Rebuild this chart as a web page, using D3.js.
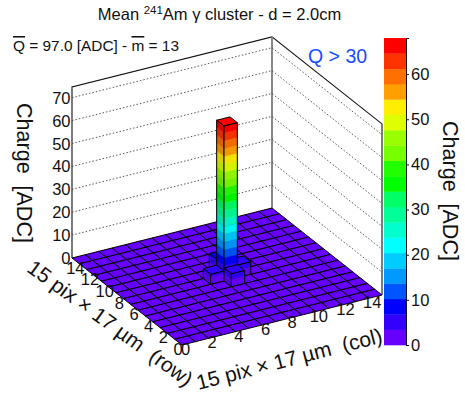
<!DOCTYPE html>
<html><head><meta charset="utf-8">
<script src="https://cdn.jsdelivr.net/npm/d3@7"></script>
<style>html,body{margin:0;padding:0;background:#fff}svg{display:block}text{font-family:"Liberation Sans",Arial,sans-serif;fill:#111}</style>
</head><body><svg id="c" width="465" height="394"></svg>
<script>
const paletteLowToHigh = ["#6600ff","#3300ff","#0000ff","#0055ff","#0099ff","#00ccff","#00ffff","#00ffcc","#00ff99","#00ff66","#00ff00","#22ff00","#77ff00","#99ff00","#ddff00","#ffee00","#ffa000","#ff7000","#ff3300","#ff0000"];
const zMaximum = 68;
const zWallTop = 74.7;
const binCount = 15;
const zTicks = [0,10,20,30,40,50,60,70];
const colTicks = [0,2,4,6,8,10,12,14];
const rowTicks = [0,2,4,6,8,10,12,14];
const paletteTicks = [0,10,20,30,40,50,60];
// charge per cell; outer index = row, inner index = col
const chargeByRow = [
 [0,0,0,0,0,0,0,0,0,0,0,0,0,0,0],
 [0,0,0,0,0,0,0,0,0,0,0,0,0,0,0],
 [0,0,0,0,0,0,0,0,0,0,0,0,0,0,0],
 [0,0,0,0,0,0,0,0,0,0,0,0,0,0,0],
 [0,0,0,0,0,0,0,0,0,0,0,0,0,0,0],
 [0,0,0,0,0,0,0,0,0,0,0,0,0,0,0],
 [0,0,0,0,0,0,0,5.7,0,0,0,0,0,0,0],
 [0,0,0,0,0,0,4.4,67.7,5.5,0,0,0,0,0,0],
 [0,0,0,0,0,0,0,7,0,0,0,0,0,0,0],
 [0,0,0,0,0,0,0,0,0,0,0,0,0,0,0],
 [0,0,0,0,0,0,0,0,0,0,0,0,0,0,0],
 [0,0,0,0,0,0,0,0,0,0,0,0,0,0,0],
 [0,0,0,0,0,0,0,0,0,0,0,0,0,0,0],
 [0,0,0,0,0,0,0,0,0,0,0,0,0,0,0],
 [0,0,0,0,0,0,0,0,0,0,0,0,0,0,0]
];

const svg = d3.select("#c");
const colDX = d3.scaleLinear([0,binCount],[0,200]);
const colDY = d3.scaleLinear([0,binCount],[0,-50]);
const rowDX = d3.scaleLinear([0,binCount],[0,-110]);
const rowDY = d3.scaleLinear([0,binCount],[0,-87]);
const zDY = d3.scaleLinear([0,70],[0,-160.3]);
const origin = [182,345];
const P = (c,r,z=0)=>[origin[0]+colDX(c)+rowDX(r), origin[1]+colDY(c)+rowDY(r)+zDY(z)];
const poly = d3.line();
const levelW = zMaximum/paletteLowToHigh.length;
const shade = (hex,k)=>{const c=d3.rgb(hex);return d3.rgb(c.r*k,c.g*k,c.b*k).formatHex();};

// walls
const walls = svg.append("g");
walls.append("path").attr("d",poly([P(0,binCount),P(0,binCount,zWallTop),P(binCount,binCount,zWallTop),P(binCount,0,zWallTop),P(binCount,0)])).attr("fill","none").attr("stroke","#111").attr("stroke-width",1.1);
walls.append("path").attr("d",poly([P(binCount,binCount),P(binCount,binCount,zWallTop)])).attr("stroke","#888").attr("stroke-width",2).attr("fill","none");
zTicks.filter(z=>z>0).forEach(z=>{
  walls.append("path").attr("d",poly([P(0,binCount,z),P(binCount,binCount,z),P(binCount,0,z)])).attr("fill","none").attr("stroke","#444").attr("stroke-width",0.9).attr("stroke-dasharray","1.5,2");
});

// lego
const lego = svg.append("g").attr("stroke-linejoin","round");
function side(a,b,h,k){
  const top = Math.min(h,zMaximum);
  if(top<=0) return;
  const n = Math.ceil(top/levelW);
  for(let l=0;l<n;l++){
    const z0=l*levelW, z1=Math.min((l+1)*levelW,top);
    lego.append("path").attr("d",poly([[a[0],a[1]+zDY(z0)],[b[0],b[1]+zDY(z0)],[b[0],b[1]+zDY(z1)],[a[0],a[1]+zDY(z1)]])+"Z")
      .attr("fill",shade(paletteLowToHigh[l],k)).attr("stroke",shade(paletteLowToHigh[l],k)).attr("stroke-width",0.3);
  }
  lego.append("path").attr("d",poly([a,[a[0],a[1]+zDY(top)],[b[0],b[1]+zDY(top)],b])+"Z").attr("fill","none").attr("stroke","#000").attr("stroke-width",1);
}
for(let r=binCount-1;r>=0;r--){
  for(let c=binCount-1;c>=0;c--){
    const h=chargeByRow[r][c];
    const lev=Math.min(Math.floor(h/levelW),paletteLowToHigh.length-1);
    lego.append("path").attr("d",poly([P(c,r,h),P(c+1,r,h),P(c+1,r+1,h),P(c,r+1,h)])+"Z")
      .attr("fill",paletteLowToHigh[lev]).attr("stroke","#000").attr("stroke-width",1);
    side(P(c,r),P(c,r+1),h,0.86);
    side(P(c,r),P(c+1,r),h,0.95);
  }
}

// axis numbers
svg.append("g").selectAll("text").data(zTicks).join("text")
  .attr("x",P(0,binCount)[0]-1.5).attr("y",d=>P(0,binCount,d)[1]+6).attr("text-anchor","end").attr("font-size",16.5).text(d=>d);
svg.append("g").selectAll("text").data(colTicks).join("text")
  .attr("x",d=>P(d,0)[0]+3.5).attr("y",d=>P(d,0)[1]+10).attr("text-anchor","middle").attr("font-size",16.5).text(d=>d);
svg.append("g").selectAll("text").data(rowTicks).join("text")
  .attr("x",d=>P(0,d)[0]-4).attr("y",d=>P(0,d)[1]+10).attr("text-anchor","middle").attr("font-size",16.5).text(d=>d);

// colour bar
const barX=384, barW=22;
const barY=d3.scaleLinear([0,zMaximum],[345,38]);
svg.append("g").selectAll("rect").data(paletteLowToHigh).join("rect")
  .attr("x",barX).attr("width",barW).attr("y",(d,i)=>barY((i+1)*levelW)).attr("height",(d,i)=>barY(i*levelW)-barY((i+1)*levelW)+0.3).attr("fill",d=>d);
const barAxis=svg.append("g").attr("transform",`translate(${barX+barW},0)`)
  .call(d3.axisRight(barY).tickValues(paletteTicks).tickSize(3).tickPadding(2).tickFormat(d3.format("d")));
barAxis.select(".domain").attr("stroke","#111").attr("stroke-width",1);
barAxis.selectAll("line").attr("stroke","#111");
barAxis.selectAll("text").attr("font-size",16.5).attr("font-family",null);
barAxis.attr("font-family",null);

// texts
const title=svg.append("text").attr("x",219.5).attr("y",20).attr("text-anchor","middle").attr("font-size",16.5);
title.append("tspan").text("Mean ");
title.append("tspan").attr("font-size",11.5).attr("dy",-6).text("241");
title.append("tspan").attr("dy",6).text("Am γ cluster - d = 2.0cm");
const sub=svg.append("text").attr("x",13).attr("y",51).attr("font-size",15.4);
sub.append("tspan").style("text-decoration","overline").text("Q");
sub.append("tspan").text(" = 97.0 [ADC] - ");
sub.append("tspan").style("text-decoration","overline").text("m");
sub.append("tspan").text(" = 13");
svg.append("text").attr("x",308).attr("y",63).attr("font-size",19.5).style("fill","#1a4cff").text("Q > 30");
const charge="Charge\u00a0\u00a0[ADC]";
svg.append("text").attr("transform","translate(17,173) rotate(90)").attr("text-anchor","middle").attr("font-size",21.5).text(charge);
svg.append("text").attr("transform","translate(443,191) rotate(90)").attr("text-anchor","middle").attr("font-size",21.5).text(charge);
svg.append("text").attr("transform","translate(106,329) rotate(36)").attr("text-anchor","middle").attr("font-size",21).text("15 pix × 17 µm\u00a0\u00a0(row)");
svg.append("text").attr("transform","translate(291,366) rotate(-14.5)").attr("text-anchor","middle").attr("font-size",21).text("15 pix × 17 µm\u00a0\u00a0(col)");
</script></body></html>
